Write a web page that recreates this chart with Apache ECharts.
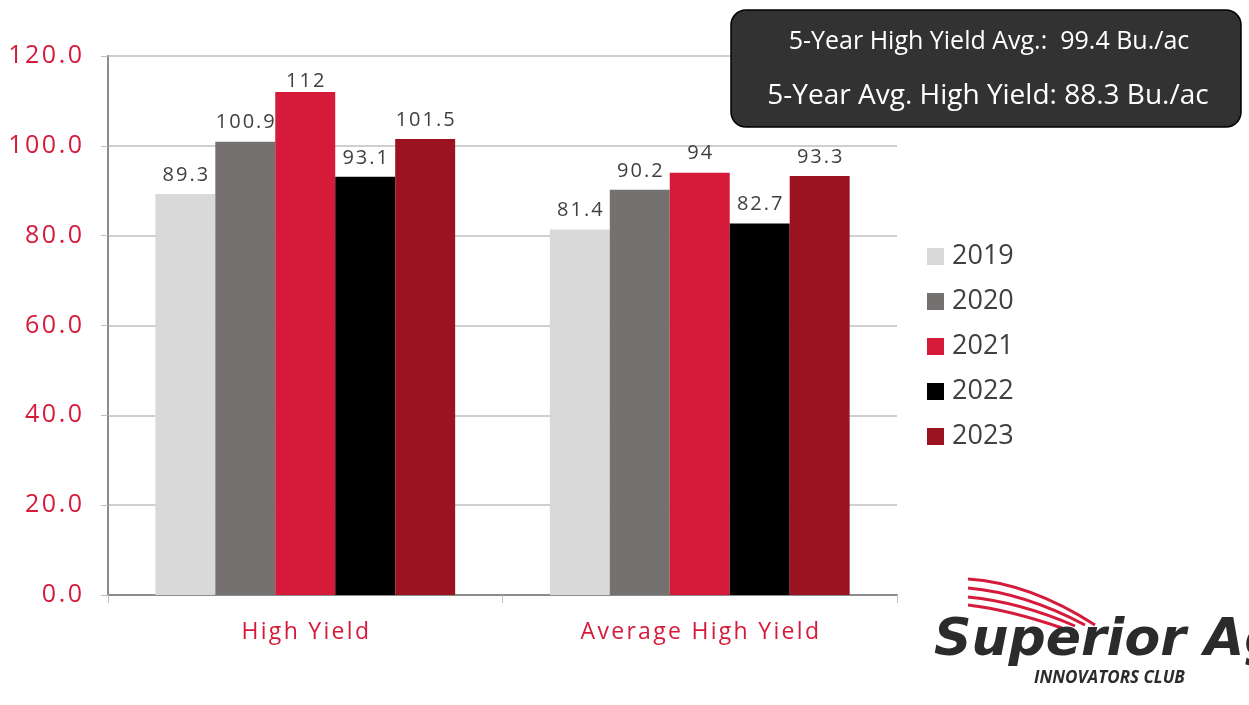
<!DOCTYPE html>
<html><head><meta charset="utf-8">
<script src="https://cdn.jsdelivr.net/npm/echarts@6/dist/echarts.min.js"></script>
<style>html,body{margin:0;padding:0;background:#fff}#c{width:1249px;height:705px}</style>
</head><body><div id="c"></div>
<script>
const categories = ['High Yield', 'Average High Yield'];
const years = ['2019', '2020', '2021', '2022', '2023'];
const values2019 = [89.3, 81.4];
const values2020 = [100.9, 90.2];
const values2021 = [112, 94];
const values2022 = [93.1, 82.7];
const values2023 = [101.5, 93.3];
const yTicks = { min: 0, max: 120, interval: 20 };
const infoLines = ['5-Year High Yield Avg.:  99.4 Bu./ac', '5-Year Avg. High Yield: 88.3 Bu./ac'];

const colors = ['#d9d9d9', '#767171', '#d51a3a', '#000000', '#9b1320'];
const seriesValues = [values2019, values2020, values2021, values2022, values2023];
const FONT = '"Open Sans", "Noto Sans", sans-serif';
const spaced = s => String(s).split('').join('\u200a');

const chart = echarts.init(document.getElementById('c'));
chart.setOption({
  animation: false,
  grid: { left: 108, right: 352, top: 56, bottom: 110, containLabel: false },
  legend: {
    orient: 'vertical', left: 922, top: 238, itemWidth: 17, itemHeight: 17, itemGap: 18,
    icon: 'rect',
    textStyle: { fontSize: 27, color: '#404040', fontFamily: FONT, padding: [0, 0, 0, 3] },
    data: years
  },
  xAxis: {
    type: 'category', data: categories,
    axisLine: { lineStyle: { color: '#8c8c8c', width: 2 } },
    axisTick: { show: true, length: 8, lineStyle: { color: '#bfbfbf' } },
    axisLabel: { fontSize: 23, color: '#d51a3a', fontFamily: FONT, margin: 26, formatter: v => spaced(v) }
  },
  yAxis: {
    type: 'value', min: yTicks.min, max: yTicks.max, interval: yTicks.interval,
    axisLine: { show: true, lineStyle: { color: '#8c8c8c', width: 2 } },
    axisTick: { show: true, length: 7, lineStyle: { color: '#bfbfbf' } },
    splitLine: { lineStyle: { color: '#bfbfbf', width: 1.5 } },
    axisLabel: { fontSize: 25, color: '#d51a3a', fontFamily: FONT, margin: 26, formatter: v => spaced(v.toFixed(1)) }
  },
  series: years.map((y, i) => ({
    name: y, type: 'bar', barGap: '0%', barCategoryGap: '24%',
    data: seriesValues[i].map(v => v > 110 ? { value: v, label: { distance: 1 } } : v),
    itemStyle: { color: colors[i] },
    label: { show: true, position: 'top', distance: 9, fontSize: 20, color: '#404040', fontFamily: FONT, formatter: p => spaced(p.value) }
  })),
  graphic: [
    { type: 'rect', z: 100, shape: { x: 731, y: 10, width: 510, height: 117, r: 15 },
      style: { fill: '#323232', stroke: '#000', lineWidth: 1.5 } },
    { type: 'text', z: 101, x: 989, y: 42, style: { text: infoLines[0], fill: '#fff', font: '25px ' + FONT, textAlign: 'center', textVerticalAlign: 'middle' } },
    { type: 'text', z: 101, x: 988, y: 96, style: { text: infoLines[1], fill: '#fff', font: '28px ' + FONT, textAlign: 'center', textVerticalAlign: 'middle' } },
    { type: 'bezierCurve', z: 100, shape: { x1: 968, y1: 579, cpx1: 1030, cpy1: 583, x2: 1095, y2: 625 }, style: { stroke: '#d51a3a', lineWidth: 3, fill: null } },
    { type: 'bezierCurve', z: 100, shape: { x1: 968, y1: 588, cpx1: 1025, cpy1: 593, x2: 1085, y2: 625 }, style: { stroke: '#d51a3a', lineWidth: 3, fill: null } },
    { type: 'bezierCurve', z: 100, shape: { x1: 968, y1: 597, cpx1: 1020, cpy1: 602, x2: 1075, y2: 626 }, style: { stroke: '#d51a3a', lineWidth: 3, fill: null } },
    { type: 'bezierCurve', z: 100, shape: { x1: 968, y1: 605, cpx1: 1010, cpy1: 610, x2: 1062, y2: 628 }, style: { stroke: '#d51a3a', lineWidth: 3, fill: null } },
    { type: 'text', z: 100, x: 934, y: 641, style: { text: 'Superior Ag', fill: '#2b2b2b', font: 'italic 900 52px "DejaVu Sans", sans-serif', textVerticalAlign: 'middle' } },
    { type: 'text', z: 100, x: 1034, y: 678, style: { text: 'INNOVATORS CLUB', fill: '#2b2b2b', font: 'italic bold 17px "Open Sans", sans-serif', textVerticalAlign: 'middle' } }
  ]
});
</script></body></html>
